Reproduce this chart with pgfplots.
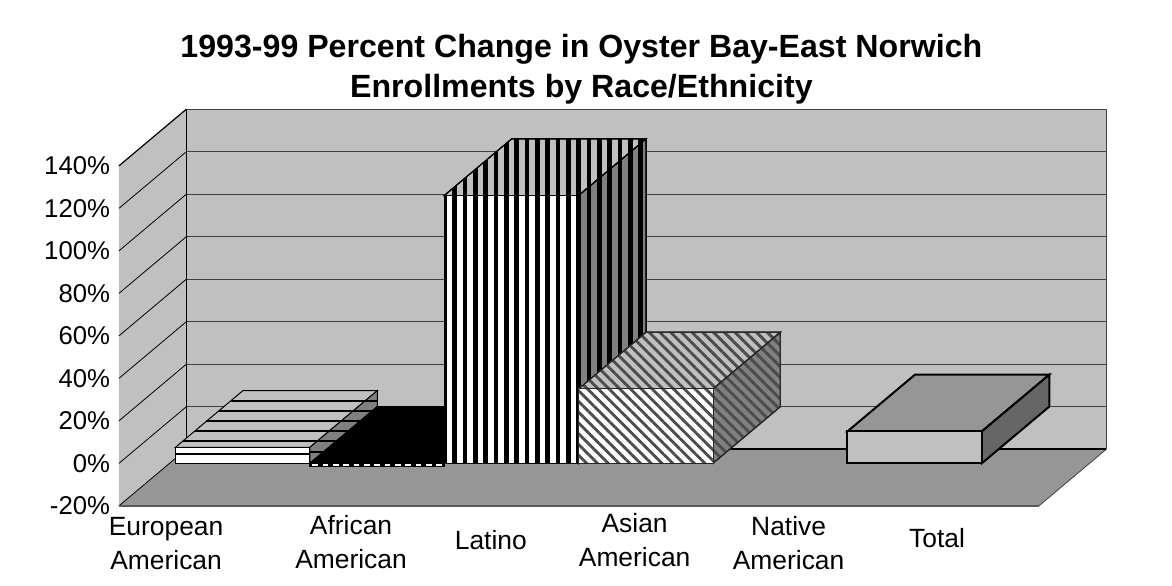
\documentclass[border=0pt]{standalone}
\usepackage{pgfplots}
\pgfplotsset{compat=1.18}
\usepackage{fontspec}
\setmainfont{Liberation Sans}
\usetikzlibrary{patterns.meta}
\definecolor{wall}{HTML}{C0C0C0}
\definecolor{floorc}{HTML}{969696}
\definecolor{sidec}{HTML}{808080}
\definecolor{gridc}{HTML}{404040}
% stripe patterns of the bars
\tikzset{
  vstripe/.style={draw=black,line width=0.75pt,preaction={fill=#1},
    preaction={pattern={Lines[angle=90,distance=7.75pt,line width=3.7pt]},pattern color=black}},
  dstripe/.style={draw=black!85,line width=0.75pt,preaction={fill=#1},
    preaction={pattern={Lines[angle=-45,distance=5.7pt,line width=2.2pt]},pattern color=black!70}},
  plainface/.style={fill=#1,draw=black,line width=0.75pt},
  band/.style={draw=black,line width=1.5pt},
  wallline/.style={draw=gridc,line width=0.75pt},
}
\begin{document}
\begin{tikzpicture}
\useasboundingbox (-89.25pt,-60.15pt) rectangle +(879pt,439.5pt);
\begin{axis}[
  at={(0,0)},anchor=south west,scale only axis,
  width=690pt,height=255pt,
  xmin=-0.4196,xmax=6.4256,ymin=-20,ymax=140,
  clip=false,
  axis x line*=bottom,axis y line*=left,
  axis line style={-,draw=gridc,line width=0.6pt},
  x axis line style={draw=none},
  xtick={-0.069,1.307,2.347,3.417,4.5625,5.667},
  xticklabels={
    {\rule{0pt}{22.4pt}European\\American},
    {\rule{0pt}{21.2pt}African\\American},
    {\rule{0pt}{32.9pt}Latino},
    {\rule{0pt}{19.6pt}Asian\\American},
    {\rule{0pt}{22.2pt}Native\\American},
    {\rule{0pt}{30.8pt}Total}},
  ytick={-20,0,20,40,60,80,100,120,140},
  yticklabels={-20\%,0\%,20\%,40\%,60\%,80\%,100\%,120\%,140\%},
  major tick length=4.5pt,
  xtick style={draw=none},
  ytick style={draw=gridc,line width=0.6pt},
  xticklabel style={align=center,anchor=north,inner sep=0pt,
    font=\fontsize{19.8}{25.5}\selectfont},
  yticklabel style={inner sep=0pt,xshift=-6.5pt,font=\fontsize{19.3}{24}\selectfont},
  title={1993-99 Percent Change in Oyster Bay-East Norwich\\Enrollments by Race/Ethnicity},
  title style={at={(0.5,1)},anchor=south,align=center,inner sep=0pt,yshift=40pt,xshift=1.8pt,
    font=\fontsize{24.1}{29.7}\selectfont\bfseries},
]
% floor
\addplot[fill=floorc,draw=none] coordinates {(-0.4196,-20) (6.4256,-20) (6.9276,6.68) (0.0824,6.68)} -- cycle;
% side wall
\addplot[fill=wall,draw=none] coordinates {(-0.4196,-20) (0.0824,6.68) (0.0824,166.68) (-0.4196,140)} -- cycle;
% back wall
\addplot[fill=wall,draw=none] coordinates {(0.0824,6.68) (6.9276,6.68) (6.9276,166.68) (0.0824,166.68)} -- cycle;
% gridlines on the back wall
\addplot[wallline] coordinates {(0.0824,26.68) (6.9276,26.68)};
\addplot[wallline] coordinates {(0.0824,46.68) (6.9276,46.68)};
\addplot[wallline] coordinates {(0.0824,66.68) (6.9276,66.68)};
\addplot[wallline] coordinates {(0.0824,86.68) (6.9276,86.68)};
\addplot[wallline] coordinates {(0.0824,106.68) (6.9276,106.68)};
\addplot[wallline] coordinates {(0.0824,126.68) (6.9276,126.68)};
\addplot[wallline] coordinates {(0.0824,146.68) (6.9276,146.68)};
\addplot[wallline] coordinates {(0.0824,166.68) (6.9276,166.68)};
% gridlines on the side wall
\addplot[draw=black,line width=0.6pt] coordinates {(-0.4196,-20) (0.0824,6.68)};
\addplot[draw=black,line width=0.6pt] coordinates {(-0.4196,0) (0.0824,26.68)};
\addplot[draw=black,line width=0.6pt] coordinates {(-0.4196,20) (0.0824,46.68)};
\addplot[draw=black,line width=0.6pt] coordinates {(-0.4196,40) (0.0824,66.68)};
\addplot[draw=black,line width=0.6pt] coordinates {(-0.4196,60) (0.0824,86.68)};
\addplot[draw=black,line width=0.6pt] coordinates {(-0.4196,80) (0.0824,106.68)};
\addplot[draw=black,line width=0.6pt] coordinates {(-0.4196,100) (0.0824,126.68)};
\addplot[draw=black,line width=0.6pt] coordinates {(-0.4196,120) (0.0824,146.68)};
\addplot[draw=black,line width=0.9pt] coordinates {(-0.4196,140) (0.0824,166.68)};
% frame edges of the room
\addplot[draw=black,line width=0.9pt] coordinates {(0.0824,6.68) (0.0824,166.68)};
\addplot[draw=gridc,line width=0.6pt] coordinates {(6.9276,6.68) (6.9276,166.68)};
\addplot[draw=gridc,line width=0.6pt] coordinates {(6.4256,-20) (6.9276,6.68)};
\addplot[draw=black,line width=1.6pt] coordinates {(0.0824,6.68) (6.9276,6.68)};
\addplot[draw=gridc!70!floorc,line width=1.6pt] coordinates {(-0.4196,-20) (6.4256,-20)};
% European American, 7.5
\addplot[plainface=wall] coordinates {(0,7.5) (1,7.5) (1.502,34.18) (0.502,34.18)} -- cycle;
\addplot[plainface=sidec] coordinates {(1,0) (1.502,26.68) (1.502,34.18) (1,7.5)} -- cycle;
\addplot[plainface=white] coordinates {(0,0) (1,0) (1,7.5) (0,7.5)} -- cycle;
\addplot[band] coordinates {(0,4.4) (1,4.4)};
\addplot[band] coordinates {(1,5.46) (1.105,5.46)};
\addplot[band] coordinates {(0.0555,10.49) (1.198,10.49)};
\addplot[band] coordinates {(0.1436,15.2) (1.286,15.2)};
\addplot[band] coordinates {(0.2314,19.9) (1.374,19.9)};
\addplot[band] coordinates {(0.3223,24.75) (1.463,24.75)};
\addplot[band] coordinates {(0.4106,29.46) (1.502,29.46)};
% African American, -1.3
\addplot[fill=black,draw=black,line width=0.75pt] coordinates {(1,0) (2,0) (2.502,26.68) (1.502,26.68)} -- cycle;
\addplot[vstripe=white] coordinates {(1,-1.3) (2,-1.3) (2,0) (1,0)} -- cycle;
% Latino, 126
\addplot[vstripe=wall] coordinates {(2,126) (3,126) (3.502,152.68) (2.502,152.68)} -- cycle;
\addplot[vstripe=sidec] coordinates {(3,0) (3.502,26.68) (3.502,152.68) (3,126)} -- cycle;
\addplot[vstripe=white] coordinates {(2,0) (3,0) (3,126) (2,126)} -- cycle;
% Asian American, 35
\addplot[dstripe=wall] coordinates {(3,35) (4,35) (4.502,61.68) (3.502,61.68)} -- cycle;
\addplot[dstripe=sidec] coordinates {(4,0) (4.502,26.68) (4.502,61.68) (4,35)} -- cycle;
\addplot[dstripe=white] coordinates {(3,0) (4,0) (4,35) (3,35)} -- cycle;
% Total, 15
\addplot[fill=floorc,draw=black,line width=1.5pt] coordinates {(5,15) (6,15) (6.502,41.68) (5.502,41.68)} -- cycle;
\addplot[fill=black!60,draw=black,line width=1.5pt] coordinates {(6,0) (6.502,26.68) (6.502,41.68) (6,15)} -- cycle;
\addplot[fill=wall,draw=black,line width=1.5pt] coordinates {(5,0) (6,0) (6,15) (5,15)} -- cycle;
\end{axis}
\end{tikzpicture}
\end{document}
